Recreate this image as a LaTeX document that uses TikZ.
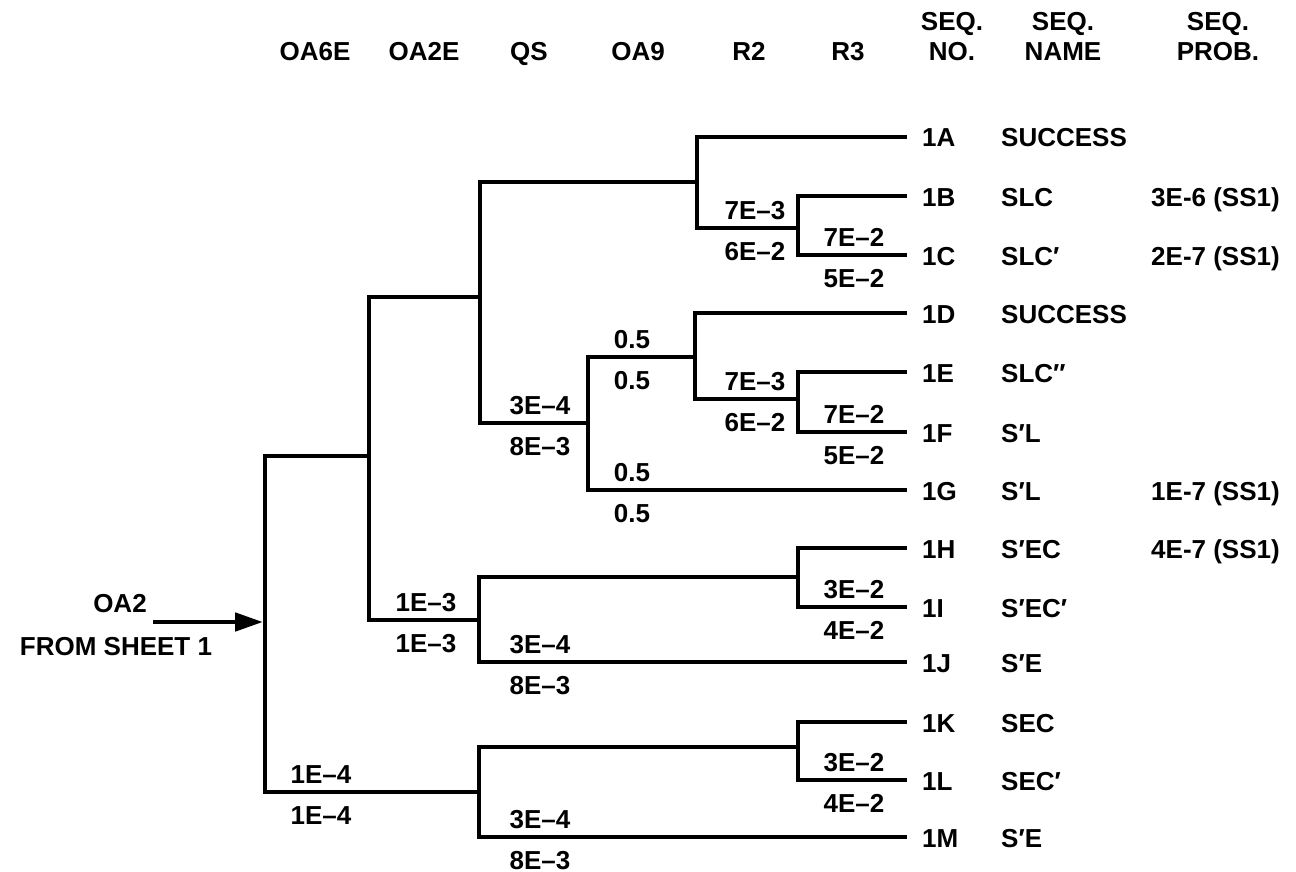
\documentclass[tikz,border=0pt]{standalone}
\usepackage{fontspec}
\setmainfont{Liberation Sans}
\usetikzlibrary{arrows.meta}
\begin{document}
\begin{tikzpicture}[x=1pt,y=-1pt,
  every node/.style={font=\fontsize{26}{30}\selectfont\bfseries, inner sep=0pt},
  br/.style={line width=4.8pt, line cap=rect},
  hd/.style={anchor=base},
  lab/.style={anchor=base},
  seqtx/.style={anchor=base west}]
\useasboundingbox (0,0) rectangle (1296,872);
% headers
\foreach \t/\x [count=\i] in {OA6E/315,OA2E/424,QS/529,OA9/638,R2/749,R3/848,NO./952,NAME/1063,PROB./1218}
  \node[hd] (h\i) at (\x,61) {\t};
\foreach \x [count=\i] in {952,1063,1218}
  \node[hd] (hs\i) at (\x,31) {SEQ.};
% junction coordinates
\coordinate (A) at (265,456); \coordinate (B) at (265,792);
\coordinate (C) at (369,297); \coordinate (D) at (369,620);
\coordinate (E) at (480,182); \coordinate (F) at (480,423);
\coordinate (G) at (697,137); \coordinate (H) at (697,228);
\coordinate (I) at (798,196); \coordinate (Jc) at (798,255);
\coordinate (K) at (588,357); \coordinate (L) at (588,490);
\coordinate (M) at (695,313); \coordinate (N) at (695,399);
\coordinate (O) at (798,372); \coordinate (P) at (798,432);
\coordinate (Q) at (479,577); \coordinate (R) at (479,662);
\coordinate (S) at (798,548); \coordinate (T) at (798,607);
\coordinate (U) at (479,747); \coordinate (V) at (479,837);
\coordinate (W) at (798,722); \coordinate (X) at (798,780);
% leaves
\foreach \n/\y/\nm in {A/137/SUCCESS,B/196/SLC,C/255/SLC′,D/313/SUCCESS,E/372/SLC″,F/432/S′L,G/490/S′L,H/548/S′EC,I/607/S′EC′,J/662/S′E,K/722/SEC,L/780/SEC′,M/837/S′E}{
  \coordinate (e\n) at (905,\y);
  \node[seqtx] (s\n) at (922,\y+10) {1\n};
  \node[seqtx] (m\n) at (1001,\y+10) {\nm};
}
\node[seqtx] (pB) at (1151,206) {3E-6 (SS1)};
\node[seqtx] (pC) at (1151,265) {2E-7 (SS1)};
\node[seqtx] (pG) at (1151,500) {1E-7 (SS1)};
\node[seqtx] (pH) at (1151,558) {4E-7 (SS1)};
% tree
\draw[br] (A) -- (B);
\draw[br] (A) -- (A -| C);
\draw[br] (C) -- (D);
\draw[br] (B) -- (B -| U);
\draw[br] (U) -- (V);
\draw[br] (C) -- (C -| E);
\draw[br] (E) -- (F);
\draw[br] (D) -- (D -| Q);
\draw[br] (Q) -- (R);
\draw[br] (E) -- (E -| G);
\draw[br] (G) -- (H);
\draw[br] (G) -- (eA);
\draw[br] (H) -- (H -| I);
\draw[br] (I) -- (Jc);
\draw[br] (I) -- (eB);
\draw[br] (Jc) -- (eC);
\draw[br] (F) -- (F -| K);
\draw[br] (K) -- (L);
\draw[br] (K) -- (K -| M);
\draw[br] (M) -- (N);
\draw[br] (M) -- (eD);
\draw[br] (N) -- (N -| O);
\draw[br] (O) -- (P);
\draw[br] (O) -- (eE);
\draw[br] (P) -- (eF);
\draw[br] (L) -- (eG);
\draw[br] (Q) -- (Q -| S);
\draw[br] (S) -- (T);
\draw[br] (S) -- (eH);
\draw[br] (T) -- (eI);
\draw[br] (R) -- (eJ);
\draw[br] (U) -- (U -| W);
\draw[br] (W) -- (X);
\draw[br] (W) -- (eK);
\draw[br] (X) -- (eL);
\draw[br] (V) -- (eM);
% branch labels
\foreach \a/\b/\x/\y [count=\i] in {1E--4/1E--4/321/792, 1E--3/1E--3/426/620,
   3E--4/8E--3/540/423, 3E--4/8E--3/540/662, 3E--4/8E--3/540/837,
   0.5/0.5/632/357, 0.5/0.5/632/490,
   7E--3/6E--2/755/228, 7E--3/6E--2/755/399,
   7E--2/5E--2/854/255, 7E--2/5E--2/854/432,
   3E--2/4E--2/854/607, 3E--2/4E--2/854/780}{
  \node[lab] (u\i) at (\x,\y-9) {\a};
  \node[lab] (l\i) at (\x,\y+32) {\b};
}
% input
\node[anchor=base] (oa2) at (120,612) {OA2};
\node[anchor=base] (fs) at (116,655) {FROM SHEET 1};
\coordinate (src) at (153,622);
\draw[line width=4.8pt, -{Triangle[length=28pt,width=18pt]}, shorten >=2pt] (src) -- (src -| A);
\end{tikzpicture}
\end{document}
